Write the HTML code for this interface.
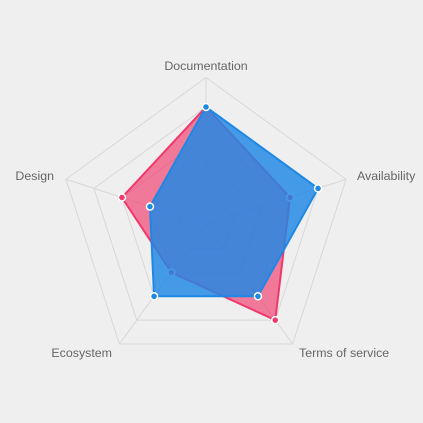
<!DOCTYPE html>
<html><head><meta charset="utf-8"><style>
html,body{margin:0;padding:0;background:#efefef;}
svg{display:block;font-family:"Liberation Sans",sans-serif;}
</style></head><body>
<svg id="chart" width="423" height="423" viewBox="0 0 423 423">
<rect width="423" height="423" fill="#efefef"/>
<g id="grid"></g><g id="series"></g><g id="labels"></g>
</svg>
<script>
const categories = ["Documentation","Availability","Terms of service","Ecosystem","Design"];
const seriesRed = [80,60,80,40,60];
const seriesBlue = [80,80,60,60,40];
const gridLevels = [20,40,60,80,100];
const maxValue = 100;

const NS="http://www.w3.org/2000/svg";
const cx=206, cy=224.8, R=147.3;
function pt(i,v){const a=-Math.PI/2+i*2*Math.PI/categories.length;const r=R*v/maxValue;return [cx+r*Math.cos(a),cy+r*Math.sin(a)];}
function mk(tag,attrs,parent){const e=document.createElementNS(NS,tag);for(const k in attrs)e.setAttribute(k,attrs[k]);parent.appendChild(e);return e;}
const grid=document.getElementById('grid');
gridLevels.forEach(l=>{
  const e=mk('polygon',{points:categories.map((c,i)=>pt(i,l).join(',')).join(' '),fill:'none',stroke:'#d8d8d8','stroke-width':1},grid);
  
  
});
categories.forEach((c,i)=>{
  const p=pt(i,maxValue);
  const e=mk('line',{x1:cx,y1:cy,x2:p[0],y2:p[1],stroke:'#d8d8d8','stroke-width':1},grid);
  
  
});
const ser=document.getElementById('series');
function drawSeries(vals,stroke,fill,name){
  const g=mk('g',{},ser);
  
  
  mk('polygon',{points:vals.map((v,i)=>pt(i,v).join(',')).join(' '),fill:fill,stroke:stroke,'stroke-width':2,'stroke-linejoin':'round'},g);
  vals.forEach((v,i)=>{
    const p=pt(i,v);
    const c=mk('circle',{cx:p[0],cy:p[1],r:3.5,fill:stroke,stroke:'#fff','stroke-width':1.5},g);
    
    
  });
}
drawSeries(seriesRed,'#f0386a','rgba(240,56,106,0.65)','series-red');
drawSeries(seriesBlue,'#1e88e5','rgba(30,136,229,0.82)','series-blue');
const lab=document.getElementById('labels');
const labelPos=[[206,70,'middle'],[357,180,'start'],[299,357,'start'],[112,357,'end'],[54,180,'end']];
categories.forEach((c,i)=>{
  const t=mk('text',{x:labelPos[i][0],y:labelPos[i][1],'text-anchor':labelPos[i][2],'font-size':12.4,fill:'#666'},lab);
  t.textContent=c;
  
  
});
</script>
</body></html>
